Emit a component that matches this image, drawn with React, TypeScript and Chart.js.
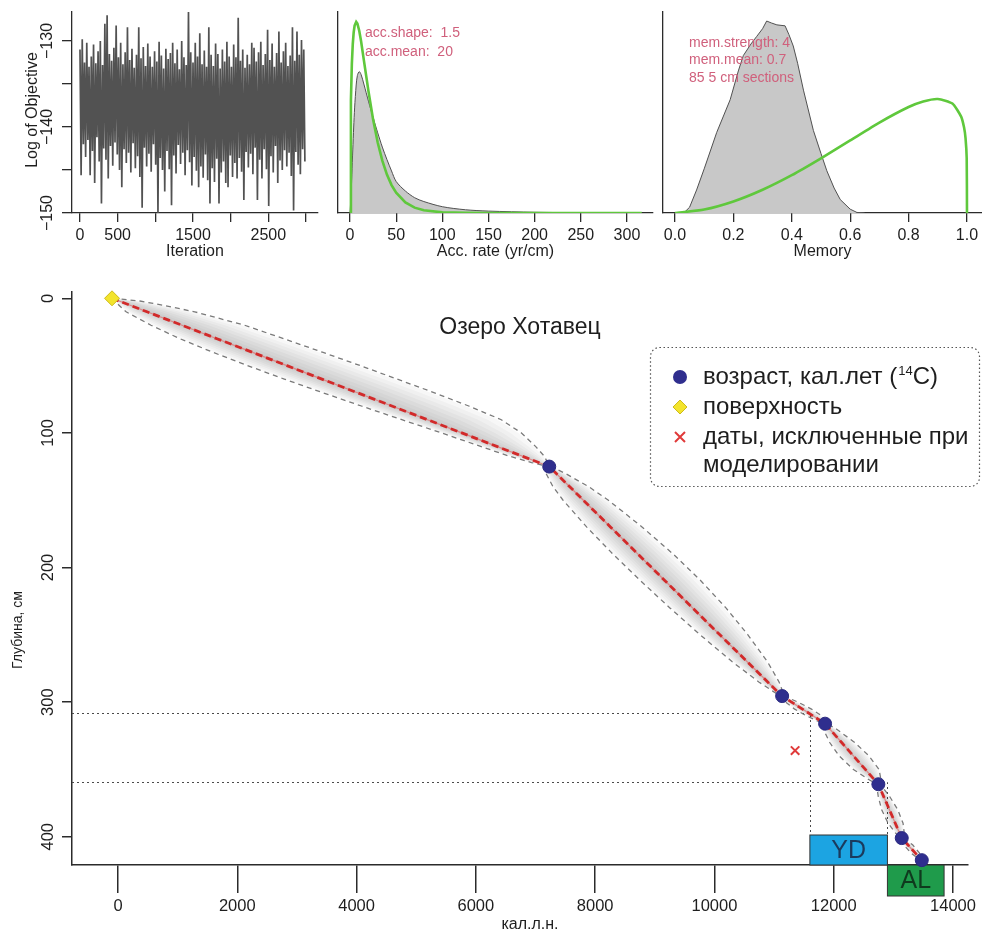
import React, { useEffect, useRef } from 'react';
import { Chart, registerables } from 'chart.js';

Chart.register(...registerables);

const FONT = '"Liberation Sans", Arial, Helvetica, sans-serif';
const AXIS = '#2b2b2b';
const TEXT = '#1e1e1e';
const ANNOT = '#d0607c';
const GREEN = '#5fc83c';
const GRAY_FILL = '#c8c8c8';
const GRAY_LINE = '#505050';

// ---------------- Panel A: MCMC trace ----------------
const traceIterStep = 15;
const traceLogObjective = [
  -131.0, -145.6, -129.8, -142.0, -132.5, -143.5, -130.2, -141.5, -133.0, -145.6,
  -131.8, -142.8, -130.4, -146.5, -132.6, -141.2, -131.2, -144.0, -130.0, -148.9,
  -132.8, -142.5, -128.0, -143.8, -127.0, -146.0, -131.5, -142.2, -132.3, -144.5,
  -130.8, -141.8, -128.2, -143.2, -131.9, -145.0, -130.2, -147.0, -132.7, -142.6,
  -131.3, -144.2, -128.4, -143.0, -132.2, -145.3, -130.9, -141.9, -133.1, -144.8,
  -131.6, -143.4, -128.4, -145.8, -132.0, -149.4, -130.7, -142.4, -132.9, -144.6,
  -130.3, -143.1, -131.8, -145.2, -133.0, -142.0, -131.2, -144.4, -132.4, -150.0,
  -130.1, -143.6, -131.7, -145.0, -133.2, -147.5, -130.9, -142.8, -132.1, -144.9,
  -131.4, -149.1, -130.2, -143.3, -132.6, -145.4, -131.0, -142.1, -133.3, -144.3,
  -130.0, -143.0, -131.9, -145.6, -132.8, -142.7, -126.6, -144.1, -131.3, -146.8,
  -132.5, -143.5, -130.2, -145.1, -131.8, -147.0, -129.1, -144.6, -132.7, -145.9,
  -131.1, -143.2, -133.0, -146.2, -128.4, -148.9, -131.6, -144.8, -132.9, -146.4,
  -130.3, -143.7, -131.5, -148.9, -133.2, -145.3, -131.0, -144.0, -132.4, -146.5,
  -130.1, -147.0, -131.8, -143.3, -133.0, -145.8, -130.4, -144.2, -131.9, -146.0,
  -127.3, -143.6, -132.3, -145.2, -131.0, -148.5, -133.1, -142.9, -131.6, -144.7,
  -132.7, -143.1, -130.2, -145.5, -130.8, -142.4, -132.4, -148.5, -131.3, -143.8,
  -130.1, -146.0, -132.8, -142.6, -131.5, -144.9, -128.7, -149.2, -132.2, -143.4,
  -130.3, -145.3, -133.0, -142.2, -131.4, -146.5, -128.9, -143.9, -132.5, -145.0,
  -131.2, -142.7, -130.2, -144.6, -132.9, -143.0, -131.7, -145.7, -128.4, -149.7,
  -132.3, -142.9, -128.9, -144.4, -131.6, -145.5, -129.9, -142.6, -131.0, -144.0,
];
const traceXTicks = [0, 500, 1000, 1500, 2000, 2500, 3000];
const traceXLabels = ['0', '500', '', '1500', '', '2500', ''];
const traceYTicks = [-150, -145, -140, -135, -130];
const traceYLabels = ['\u2212150', '', '\u2212140', '', '\u2212130'];

// ---------------- Panel B: accumulation rate ----------------
const accRate = [0, 1, 2, 3, 4, 5, 6.7, 8, 10, 12, 15, 20, 25, 30, 35, 40, 45, 50, 60, 70, 80, 100, 125, 150, 200, 250, 300, 316];
const accPosterior = [0, 0.08, 0.2, 0.33, 0.45, 0.55, 0.67, 0.72, 0.74, 0.725, 0.675, 0.585, 0.5, 0.42, 0.345, 0.28, 0.22, 0.165, 0.115, 0.08, 0.06, 0.033, 0.017, 0.01, 0.004, 0.001, 0, 0];
const accPrior = [0, 0.59, 0.78, 0.884, 0.946, 0.981, 1.0, 0.991, 0.954, 0.899, 0.8, 0.637, 0.49, 0.369, 0.274, 0.201, 0.146, 0.106, 0.055, 0.028, 0.014, 0.0035, 0.0005, 0, 0, 0, 0, 0];
const accXTicks = [0, 50, 100, 150, 200, 250, 300];
const accXLabels = ['0', '50', '100', '150', '200', '250', '300'];
const accInfo = ['acc.shape:  1.5', 'acc.mean:  20'];

// ---------------- Panel C: memory ----------------
const memValue = [0.03, 0.05, 0.074, 0.1, 0.143, 0.189, 0.217, 0.234, 0.26, 0.28, 0.3, 0.314, 0.33, 0.349, 0.377, 0.39, 0.405, 0.42, 0.44, 0.474, 0.5, 0.52, 0.545, 0.566, 0.6, 0.623, 0.65];
const memPosterior = [0, 0.03, 0.12, 0.23, 0.42, 0.59, 0.74, 0.82, 0.88, 0.92, 0.96, 1.0, 0.99, 0.98, 0.975, 0.93, 0.87, 0.78, 0.64, 0.43, 0.31, 0.22, 0.13, 0.07, 0.02, 0.003, 0];
const memPriorX = [0, 0.1, 0.2, 0.3, 0.4, 0.5, 0.6, 0.7, 0.8, 0.85, 0.9, 0.95, 0.98, 0.99, 0.995, 0.999, 1.0];
const memPrior = [0, 0.018, 0.06, 0.121, 0.197, 0.285, 0.378, 0.471, 0.552, 0.581, 0.594, 0.57, 0.502, 0.445, 0.39, 0.285, 0];
const memXTicks = [0, 0.2, 0.4, 0.6, 0.8, 1.0];
const memXLabels = ['0.0', '0.2', '0.4', '0.6', '0.8', '1.0'];
const memInfo = ['mem.strength: 4', 'mem.mean: 0.7', '85 5 cm sections'];

// ---------------- Main panel: age-depth model ----------------
const depthCm = [0, 2, 5, 10, 20, 30, 40, 50, 60, 70, 80, 90, 100, 110, 117, 122, 125, 130, 140, 150, 170, 190, 210, 230, 250, 270, 285, 292, 295.5, 300, 305, 310, 314, 316, 320, 330, 340, 350, 357, 361, 370, 380, 390, 397, 401, 406, 412, 417.4];
const ageMean = [-100, 17, 193, 486, 1073, 1659, 2246, 2832, 3418, 4005, 4591, 5178, 5764, 6350, 6761, 7054, 7230, 7345, 7574, 7802, 8260, 8718, 9175, 9633, 10091, 10549, 10893, 11053, 11135, 11293, 11469, 11645, 11785, 11855, 11934, 12133, 12331, 12530, 12669, 12748, 12836, 12934, 13032, 13101, 13140, 13242, 13365, 13476];
const ageMin = [-110, -43, 13, 136, 553, 1039, 1586, 2172, 2788, 3425, 4081, 4748, 5424, 6080, 6541, 6934, 7200, 7175, 7294, 7462, 7860, 8298, 8765, 9253, 9761, 10299, 10743, 10983, 11105, 11193, 11339, 11535, 11725, 11825, 11824, 11933, 12091, 12330, 12569, 12718, 12746, 12804, 12912, 13031, 13110, 13172, 13295, 13446];
const ageMax = [-90, 367, 743, 1286, 2123, 2779, 3426, 4062, 4678, 5295, 5881, 6418, 6764, 7000, 7141, 7204, 7260, 7495, 7894, 8222, 8790, 9308, 9775, 10193, 10561, 10889, 11083, 11143, 11165, 11403, 11619, 11795, 11855, 11885, 12044, 12353, 12591, 12760, 12789, 12778, 12936, 13074, 13162, 13181, 13170, 13322, 13435, 13506];

const datedAge = [7230, 11135, 11855, 12748, 13140, 13476];
const datedDepth = [125, 295.5, 316, 361, 401, 417.4];
const surfaceAge = [-100];
const surfaceDepth = [0];
const excludedAge = [11352];
const excludedDepth = [336];

const guideDepth = [308, 359.5];
const guideAge = [11600, 12900];

const zoneNames = ['YD', 'AL'];
const zoneStart = [11600, 12900];
const zoneEnd = [12900, 13850];

const mainXTicks = [0, 2000, 4000, 6000, 8000, 10000, 12000, 14000];
const mainXLabels = ['0', '2000', '4000', '6000', '8000', '10000', '12000', '14000'];
const mainYTicks = [0, 100, 200, 300, 400];
const mainYLabels = ['0', '100', '200', '300', '400'];

const mainTitle = 'Озеро Хотавец';
const mainXTitle = 'кал.л.н.';
const mainYTitle = 'Глубина, см';
const legendLabels = ['возраст, кал.лет (', 'поверхность', 'даты, исключенные при', 'моделировании'];

// ---------------- helpers ----------------
function measure(text: string, size: number) {
  const c = document.createElement('canvas').getContext('2d') as CanvasRenderingContext2D;
  c.font = `${size}px ${FONT}`;
  return c.measureText(text).width;
}

function drawText(ctx: any, text: string, x: number, y: number, size: number, color: string, align: string = 'center', rotate = 0) {
  ctx.save();
  ctx.font = `${size}px ${FONT}`;
  ctx.fillStyle = color;
  ctx.textAlign = align;
  ctx.textBaseline = 'middle';
  ctx.translate(x, y);
  if (rotate) ctx.rotate(rotate);
  ctx.fillText(text, 0, 0);
  ctx.restore();
}

type AxisOpt = {
  horizontal: boolean;
  min: number;
  max: number;
  size: number;
  ticks?: number[];
  labels?: string[];
  tickLength?: number;
  labelGap?: number;
  fontSize?: number;
  rotate?: boolean;
  reverse?: boolean;
  lineWidth?: number;
};

function makeAxis(o: AxisOpt) {
  const fs = o.fontSize ?? 16;
  const tl = o.tickLength ?? 9;
  const lw = o.lineWidth ?? 1.3;
  let padding = o.labelGap ?? 4;
  if (o.rotate && o.labels) {
    const widest = Math.max(...o.labels.map((l) => measure(l, fs)));
    padding = (o.labelGap ?? 14) - widest / 2;
  }
  const has = !!o.ticks;
  return {
    type: 'linear',
    position: o.horizontal ? 'bottom' : 'left',
    min: o.min,
    max: o.max,
    reverse: !!o.reverse,
    afterBuildTicks: (s: any) => {
      if (o.ticks) s.ticks = o.ticks.map((v) => ({ value: v }));
    },
    afterFit: (s: any) => {
      if (o.horizontal) s.height = o.size;
      else s.width = o.size;
      s.paddingLeft = 0;
      s.paddingRight = 0;
      s.paddingTop = 0;
      s.paddingBottom = 0;
    },
    grid: {
      display: has,
      drawOnChartArea: false,
      drawTicks: has,
      tickLength: tl,
      tickColor: AXIS,
      tickWidth: lw,
      color: AXIS,
      lineWidth: lw,
    },
    border: { display: true, color: AXIS, width: lw },
    ticks: {
      display: has,
      autoSkip: false,
      padding,
      color: TEXT,
      font: { family: FONT, size: fs },
      minRotation: o.rotate ? 90 : 0,
      maxRotation: o.rotate ? 90 : 0,
      crossAlign: o.rotate ? 'center' : 'near',
      callback: (v: any, i: number) => (o.labels ? o.labels[i] : String(v)),
    },
  };
}

const baseOptions = (padding: any) => ({
  animation: false,
  responsive: false,
  devicePixelRatio: 1,
  events: [],
  layout: { padding },
  plugins: { legend: { display: false }, tooltip: { enabled: false } },
});

// ---------------- configs ----------------
function configTrace(): any {
  return {
    type: 'scatter',
    data: {
      datasets: [
        {
          data: traceLogObjective.map((v, i) => ({ x: i * traceIterStep, y: v })),
          showLine: true,
          borderColor: '#525252',
          borderWidth: 1.7,
          pointRadius: 0,
        },
      ],
    },
    options: {
      ...baseOptions({ top: 12, right: 12, left: 0, bottom: 0 }),
      scales: {
        x: makeAxis({ horizontal: true, min: -106, max: 3159, size: 57, ticks: traceXTicks, labels: traceXLabels, tickLength: 9, labelGap: 4.4 }),
        y: makeAxis({ horizontal: false, min: -150, max: -126.63, size: 72, ticks: traceYTicks, labels: traceYLabels, tickLength: 10, labelGap: 14, rotate: true }),
      },
    },
    plugins: [
      {
        id: 'traceText',
        afterDraw(chart: any) {
          const { ctx, chartArea } = chart;
          drawText(ctx, 'Iteration', (chartArea.left + chartArea.right) / 2, 252, 16, TEXT);
          drawText(ctx, 'Log of Objective', 33, 110, 16, TEXT, 'center', -Math.PI / 2);
        },
      },
    ],
  };
}

function configAcc(): any {
  return {
    type: 'scatter',
    data: {
      datasets: [
        {
          data: accRate.map((x, i) => ({ x, y: accPrior[i] })),
          showLine: true,
          borderColor: GREEN,
          borderWidth: 2.6,
          pointRadius: 0,
          order: 0,
        },
        {
          data: accRate.map((x, i) => ({ x, y: accPosterior[i] })),
          showLine: true,
          fill: 'origin',
          backgroundColor: GRAY_FILL,
          borderColor: GRAY_LINE,
          borderWidth: 1,
          pointRadius: 0,
          tension: 0.3,
          order: 1,
        },
      ],
    },
    options: {
      ...baseOptions({ top: 12, right: 4, left: 0, bottom: 0 }),
      scales: {
        x: makeAxis({ horizontal: true, min: -13, max: 328.2, size: 57, ticks: accXTicks, labels: accXLabels, tickLength: 9, labelGap: 4.4 }),
        y: makeAxis({ horizontal: false, min: 0, max: 1.052, size: 8 }),
      },
    },
    plugins: [
      {
        id: 'accText',
        afterDraw(chart: any) {
          const { ctx, chartArea } = chart;
          drawText(ctx, 'Acc. rate (yr/cm)', (chartArea.left + chartArea.right) / 2, 252, 16, TEXT);
          accInfo.forEach((t, i) => drawText(ctx, t, 35, 33 + i * 19, 14, ANNOT, 'left'));
        },
      },
    ],
  };
}

function configMem(): any {
  return {
    type: 'scatter',
    data: {
      datasets: [
        {
          data: memPriorX.map((x, i) => ({ x, y: memPrior[i] })),
          showLine: true,
          borderColor: GREEN,
          borderWidth: 2.6,
          pointRadius: 0,
          tension: 0.2,
          order: 0,
        },
        {
          data: memValue.map((x, i) => ({ x, y: memPosterior[i] })),
          showLine: true,
          fill: 'origin',
          backgroundColor: GRAY_FILL,
          borderColor: GRAY_LINE,
          borderWidth: 1,
          pointRadius: 0,
          order: 1,
        },
      ],
    },
    options: {
      ...baseOptions({ top: 12, right: 0, left: 0, bottom: 0 }),
      scales: {
        x: makeAxis({ horizontal: true, min: -0.041, max: 1.0514, size: 57, ticks: memXTicks, labels: memXLabels, tickLength: 9, labelGap: 4.4 }),
        y: makeAxis({ horizontal: false, min: 0, max: 1.047, size: 6 }),
      },
    },
    plugins: [
      {
        id: 'memText',
        afterDraw(chart: any) {
          const { ctx, chartArea } = chart;
          drawText(ctx, 'Memory', (chartArea.left + chartArea.right) / 2, 252, 16, TEXT);
          memInfo.forEach((t, i) => drawText(ctx, t, 32, 43 + i * 17.5, 14, ANNOT, 'left'));
        },
      },
    ],
  };
}

function roundRectPath(ctx: any, x0: number, y0: number, x1: number, y1: number, r: number) {
  ctx.beginPath();
  ctx.moveTo(x0 + r, y0);
  ctx.lineTo(x1 - r, y0);
  ctx.arcTo(x1, y0, x1, y0 + r, r);
  ctx.lineTo(x1, y1 - r);
  ctx.arcTo(x1, y1, x1 - r, y1, r);
  ctx.lineTo(x0 + r, y1);
  ctx.arcTo(x0, y1, x0, y1 - r, r);
  ctx.lineTo(x0, y0 + r);
  ctx.arcTo(x0, y0, x0 + r, y0, r);
  ctx.closePath();
}

function configMain(): any {
  const bandLayers = [0.95, 0.82, 0.69, 0.56, 0.43, 0.3, 0.18, 0.08];
  const layerSets = bandLayers.map((f, k) => ({
    data: [
      ...depthCm.map((d, i) => ({ x: ageMean[i] + f * (ageMin[i] - ageMean[i]), y: d })),
      ...depthCm.map((d, i) => ({ x: ageMean[i] + f * (ageMax[i] - ageMean[i]), y: d })).reverse(),
    ],
    showLine: true,
    fill: 'shape',
    backgroundColor: 'rgba(0,0,0,0.03)',
    borderColor: 'rgba(0,0,0,0)',
    borderWidth: 1,
    pointRadius: 0,
    order: 20 + k,
  }));

  const datasets: any[] = [
    ...layerSets,
    {
      data: depthCm.map((d, i) => ({ x: ageMin[i], y: d })),
      showLine: true,
      borderColor: '#7a7a7a',
      borderWidth: 1.3,
      borderDash: [5, 4],
      pointRadius: 0,
      order: 6,
    },
    {
      data: depthCm.map((d, i) => ({ x: ageMax[i], y: d })),
      showLine: true,
      borderColor: '#7a7a7a',
      borderWidth: 1.3,
      borderDash: [5, 4],
      pointRadius: 0,
      order: 5,
    },
    {
      data: depthCm.map((d, i) => ({ x: ageMean[i], y: d })),
      showLine: true,
      borderColor: 'rgba(235,80,80,0.55)',
      borderWidth: 1.2,
      pointRadius: 0,
      order: 4,
    },
    {
      data: depthCm.map((d, i) => ({ x: ageMean[i], y: d })),
      showLine: true,
      borderColor: '#d22a2a',
      borderWidth: 2.8,
      borderDash: [7, 4],
      pointRadius: 0,
      order: 3,
    },
    {
      data: excludedAge.map((x, i) => ({ x, y: excludedDepth[i] })),
      pointStyle: 'crossRot',
      pointRadius: 6,
      borderColor: '#e03a3a',
      borderWidth: 2,
      clip: false,
      order: 2,
    },
    {
      data: surfaceAge.map((x, i) => ({ x, y: surfaceDepth[i] })),
      pointStyle: 'rectRot',
      pointRadius: 7.5,
      backgroundColor: '#f3e42c',
      borderColor: '#cdbb1c',
      borderWidth: 1,
      clip: false,
      order: 1,
    },
    {
      data: datedAge.map((x, i) => ({ x, y: datedDepth[i] })),
      pointStyle: 'circle',
      pointRadius: 6.5,
      backgroundColor: '#2f2e8e',
      borderColor: '#2a2980',
      borderWidth: 1,
      clip: false,
      order: 0,
    },
  ];

  const decor = {
    id: 'mainDecor',
    beforeDatasetsDraw(chart: any) {
      const { ctx, chartArea } = chart;
      const xs = chart.scales.x;
      const ys = chart.scales.y;
      const boxTop = chartArea.bottom - 30;
      ctx.save();
      ctx.strokeStyle = '#4a4a4a';
      ctx.lineWidth = 1;
      ctx.setLineDash([2, 3]);
      guideDepth.forEach((d, i) => {
        const py = Math.round(ys.getPixelForValue(d)) + 0.5;
        const px = Math.round(xs.getPixelForValue(guideAge[i])) + 0.5;
        ctx.beginPath();
        ctx.moveTo(chartArea.left, py);
        ctx.lineTo(px, py);
        ctx.lineTo(px, boxTop);
        ctx.stroke();
      });
      ctx.setLineDash([]);
      const fills = ['#1ca4e2', '#1f9b4b'];
      const inks = ['#1b3a5c', '#0f3a1e'];
      zoneNames.forEach((name, i) => {
        const x0 = xs.getPixelForValue(zoneStart[i]);
        const x1 = xs.getPixelForValue(zoneEnd[i]);
        const top = i === 0 ? boxTop : chartArea.bottom;
        const h = i === 0 ? 30 : 31;
        ctx.fillStyle = fills[i];
        ctx.fillRect(x0, top, x1 - x0, h);
        ctx.strokeStyle = '#333';
        ctx.lineWidth = 1;
        ctx.strokeRect(x0, top, x1 - x0, h);
        drawText(ctx, name, (x0 + x1) / 2, top + h / 2 + 1, 25, inks[i]);
      });
      ctx.restore();
    },
    afterDraw(chart: any) {
      const { ctx } = chart;
      drawText(ctx, mainTitle, 520, 58, 23, TEXT);
      drawText(ctx, mainYTitle, 18, 360, 14, TEXT, 'center', -Math.PI / 2);
      drawText(ctx, mainXTitle, 530, 655, 16, TEXT);

      // legend
      ctx.save();
      ctx.strokeStyle = '#555';
      ctx.lineWidth = 1.2;
      ctx.setLineDash([1.5, 2.5]);
      roundRectPath(ctx, 650.5, 77.5, 979.5, 216.5, 9);
      ctx.stroke();
      ctx.setLineDash([]);
      const mx = 680;
      const rows = [107, 137, 167, 195];
      ctx.fillStyle = '#2f2e8e';
      ctx.beginPath();
      ctx.arc(mx, rows[0], 7, 0, Math.PI * 2);
      ctx.fill();
      ctx.fillStyle = '#f3e42c';
      ctx.strokeStyle = '#cdbb1c';
      ctx.lineWidth = 1;
      ctx.beginPath();
      ctx.moveTo(mx, rows[1] - 7);
      ctx.lineTo(mx + 7, rows[1]);
      ctx.lineTo(mx, rows[1] + 7);
      ctx.lineTo(mx - 7, rows[1]);
      ctx.closePath();
      ctx.fill();
      ctx.stroke();
      ctx.strokeStyle = '#e03a3a';
      ctx.lineWidth = 2;
      ctx.beginPath();
      ctx.moveTo(mx - 5, rows[2] - 5);
      ctx.lineTo(mx + 5, rows[2] + 5);
      ctx.moveTo(mx + 5, rows[2] - 5);
      ctx.lineTo(mx - 5, rows[2] + 5);
      ctx.stroke();
      ctx.restore();

      const LF = 24;
      const tx = 703;
      drawText(ctx, legendLabels[0], tx, rows[0], LF, TEXT, 'left');
      let cx = tx + measure(legendLabels[0], LF);
      drawText(ctx, '14', cx + 1, rows[0] - 6, 13, TEXT, 'left');
      cx += measure('14', 13) + 1;
      drawText(ctx, 'C)', cx, rows[0], LF, TEXT, 'left');
      drawText(ctx, legendLabels[1], tx, rows[1], LF, TEXT, 'left');
      drawText(ctx, legendLabels[2], tx, rows[2], LF, TEXT, 'left');
      drawText(ctx, legendLabels[3], tx, rows[3], LF, TEXT, 'left');
    },
  };

  return {
    type: 'scatter',
    data: { datasets },
    options: {
      ...baseOptions({ top: 22, right: 14, left: 0, bottom: 0 }),
      scales: {
        x: makeAxis({ horizontal: true, min: -771, max: 14251, size: 67, ticks: mainXTicks, labels: mainXLabels, tickLength: 28, labelGap: 4, fontSize: 16.5, lineWidth: 1.5 }),
        y: makeAxis({ horizontal: false, min: -4.7, max: 421, reverse: true, size: 72, ticks: mainYTicks, labels: mainYLabels, tickLength: 10, labelGap: 14, rotate: true, fontSize: 16.5, lineWidth: 1.5 }),
      },
    },
    plugins: [decor],
  };
}

export default function App() {
  const refA = useRef<HTMLCanvasElement>(null);
  const refB = useRef<HTMLCanvasElement>(null);
  const refC = useRef<HTMLCanvasElement>(null);
  const refM = useRef<HTMLCanvasElement>(null);

  useEffect(() => {
    const charts = [
      new Chart(refA.current as HTMLCanvasElement, configTrace()),
      new Chart(refB.current as HTMLCanvasElement, configAcc()),
      new Chart(refC.current as HTMLCanvasElement, configMem()),
      new Chart(refM.current as HTMLCanvasElement, configMain()),
    ];
    return () => charts.forEach((c) => c.destroy());
  }, []);

  return (
    <div style={{ position: 'absolute', left: 0, top: 0, width: 982, height: 932, background: '#fff', overflow: 'hidden' }}>
      <canvas ref={refA} width={330} height={270} style={{ position: 'absolute', left: 0, top: 0, width: 330, height: 270 }} />
      <canvas ref={refB} width={327} height={270} style={{ position: 'absolute', left: 330, top: 0, width: 327, height: 270 }} />
      <canvas ref={refC} width={325} height={270} style={{ position: 'absolute', left: 657, top: 0, width: 325, height: 270 }} />
      <canvas ref={refM} width={982} height={662} style={{ position: 'absolute', left: 0, top: 270, width: 982, height: 662 }} />
    </div>
  );
}
